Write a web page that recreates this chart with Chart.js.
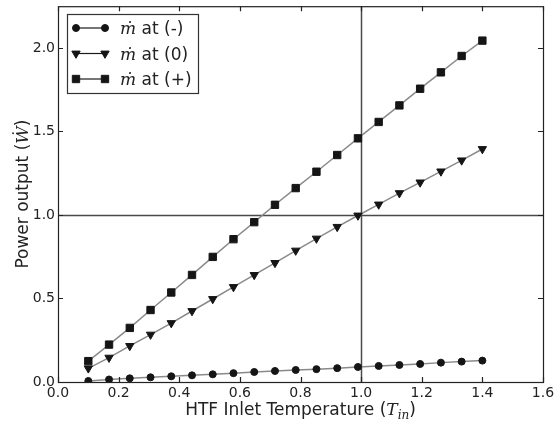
<!DOCTYPE html>
<html>
<head>
<meta charset="utf-8">
<script src="https://cdn.jsdelivr.net/npm/chart.js@4/dist/chart.umd.min.js"></script>
<style>
  html, body { margin: 0; padding: 0; background: #fff; }
  #wrap { width: 555px; height: 423px; }
</style>
</head>
<body>
<div id="wrap"><canvas id="power"></canvas></div>
<script>
const ink = '#222';
const sans = '"DejaVu Sans", sans-serif';
const serif = '"DejaVu Serif", serif';

// inlet temperature samples (normalised)
const tIn = [0.1, 0.1684, 0.2368, 0.3053, 0.3737, 0.4421, 0.5105, 0.5789, 0.6474, 0.7158,
  0.7842, 0.8526, 0.9211, 0.9895, 1.0579, 1.1263, 1.1947, 1.2632, 1.3316, 1.4];

// normalised power output for the three mass-flow settings
const powerLow = [0.006, 0.015, 0.022, 0.028, 0.034, 0.040, 0.046, 0.053, 0.060, 0.066,
  0.072, 0.077, 0.083, 0.090, 0.096, 0.102, 0.108, 0.116, 0.122, 0.128];
const powerMid = [0.082, 0.146, 0.216, 0.284, 0.353, 0.425, 0.497, 0.569, 0.641, 0.713,
  0.787, 0.859, 0.929, 0.997, 1.063, 1.131, 1.195, 1.261, 1.327, 1.395];
const powerHigh = [0.125, 0.224, 0.324, 0.431, 0.536, 0.641, 0.749, 0.855, 0.957, 1.061,
  1.161, 1.259, 1.359, 1.459, 1.557, 1.656, 1.756, 1.854, 1.952, 2.044];

const seriesLabels = ['ṁ at (-)', 'ṁ at (0)', 'ṁ at (+)'];
const markers = ['circle', 'triangle', 'rect'];
const markerSize = [3.5, 4.8, 5.2];

const xTicks = [0, 0.2, 0.4, 0.6, 0.8, 1.0, 1.2, 1.4, 1.6];
const yTicks = [0, 0.5, 1.0, 1.5, 2.0];
const refX = 1.0;
const refY = 1.0;

const toPoints = (ys) => ys.map((y, i) => ({ x: tIn[i], y }));

const makeDataset = (ys, i) => ({
  label: seriesLabels[i],
  data: toPoints(ys),
  borderColor: '#8a8a8a',
  borderWidth: 1.5,
  pointStyle: markers[i],
  pointRotation: markers[i] === 'triangle' ? 180 : 0,
  pointRadius: markerSize[i],
  pointBackgroundColor: '#151515',
  pointBorderColor: '#151515',
  pointBorderWidth: 1,
  tension: 0
});

// label with the leading mdot symbol set in italic serif
const drawMathLabel = (ctx, parts, x, y, align) => {
  let total = 0;
  parts.forEach(p => {
    ctx.font = p.font;
    p.w = ctx.measureText(p.text).width;
    total += p.w;
  });
  let cx = align === 'center' ? x - total / 2 : x;
  ctx.textAlign = 'left';
  ctx.textBaseline = 'alphabetic';
  parts.forEach(p => {
    ctx.font = p.font;
    ctx.fillText(p.text, cx, y + (p.dy || 0));
    cx += p.w;
  });
};

const framePlugin = {
  id: 'frame',
  beforeDatasetsDraw(chart) {
    const { ctx, chartArea: a, scales } = chart;
    ctx.save();
    ctx.strokeStyle = '#4a4a4a';
    ctx.lineWidth = 1.5;
    const px = Math.round(scales.x.getPixelForValue(refX)) + 0.5;
    const py = Math.round(scales.y.getPixelForValue(refY)) + 0.5;
    ctx.beginPath();
    ctx.moveTo(px, a.top); ctx.lineTo(px, a.bottom);
    ctx.moveTo(a.left, py); ctx.lineTo(a.right, py);
    ctx.stroke();
    ctx.restore();
  },
  afterDraw(chart) {
    const { ctx, chartArea: a, scales } = chart;
    ctx.save();
    ctx.strokeStyle = ink;
    ctx.lineWidth = 1.2;
    ctx.strokeRect(a.left + 0.5, a.top + 0.5, a.right - a.left, a.bottom - a.top);

    // inward tick marks on all four sides
    const tl = 5;
    ctx.beginPath();
    xTicks.forEach(v => {
      const p = Math.round(scales.x.getPixelForValue(v)) + 0.5;
      ctx.moveTo(p, a.bottom); ctx.lineTo(p, a.bottom - tl);
      ctx.moveTo(p, a.top); ctx.lineTo(p, a.top + tl);
    });
    yTicks.forEach(v => {
      const p = Math.round(scales.y.getPixelForValue(v)) + 0.5;
      ctx.moveTo(a.left, p); ctx.lineTo(a.left + tl, p);
      ctx.moveTo(a.right, p); ctx.lineTo(a.right - tl, p);
    });
    ctx.stroke();

    // legend box
    const lx = 67, ly = 14, lw = 131, lh = 79;
    ctx.fillStyle = '#fff';
    ctx.fillRect(lx, ly, lw, lh);
    ctx.strokeStyle = '#333';
    ctx.lineWidth = 1.2;
    ctx.strokeRect(lx + 0.5, ly + 0.5, lw, lh);
    chart.data.datasets.forEach((ds, i) => {
      const ry = 28 + i * 25.5;
      ctx.strokeStyle = '#1a1a1a';
      ctx.lineWidth = 1.2;
      ctx.beginPath();
      ctx.moveTo(76, ry); ctx.lineTo(105, ry);
      ctx.stroke();
      ctx.fillStyle = '#151515';
      ctx.strokeStyle = '#151515';
      ctx.lineWidth = 1;
      [76, 105].forEach(mx => {
        Chart.helpers.drawPoint(ctx, {
          pointStyle: ds.pointStyle,
          rotation: ds.pointRotation,
          radius: ds.pointRadius,
          borderWidth: 1
        }, mx, ry);
      });
      ctx.fillStyle = ink;
      drawMathLabel(ctx, [
        { text: ds.label.slice(0, 1), font: 'italic 17px ' + serif },
        { text: ds.label.slice(1), font: '17px ' + sans }
      ], 120, ry + 6, 'left');
    });

    // axis titles
    ctx.fillStyle = ink;
    const cx = (a.left + a.right) / 2;
    drawMathLabel(ctx, [
      { text: 'HTF Inlet Temperature (', font: '17px ' + sans },
      { text: 'T', font: 'italic 17px ' + serif },
      { text: 'in', font: 'italic 12px ' + serif, dy: 4 },
      { text: ')', font: '17px ' + sans }
    ], cx, 415, 'center');

    ctx.translate(28, (a.top + a.bottom) / 2);
    ctx.rotate(-Math.PI / 2);
    drawMathLabel(ctx, [
      { text: 'Power output (', font: '17px ' + sans },
      { text: 'Ẇ', font: 'italic 17px ' + serif },
      { text: ')', font: '17px ' + sans }
    ], 0, 0, 'center');
    ctx.restore();
  }
};

new Chart(document.getElementById('power'), {
  type: 'line',
  data: {
    datasets: [powerLow, powerMid, powerHigh].map(makeDataset)
  },
  options: {
    responsive: true,
    maintainAspectRatio: false,
    animation: false,
    events: [],
    layout: { padding: { top: 6, right: 12, left: 0, bottom: 0 } },
    plugins: {
      legend: { display: false },
      tooltip: { enabled: false }
    },
    scales: {
      x: {
        type: 'linear',
        min: 0,
        max: 1.6,
        grid: { display: false, drawTicks: false },
        border: { display: false },
        ticks: {
          padding: 3,
          color: ink,
          font: { family: sans, size: 14 },
          callback: (v) => v.toFixed(1)
        },
        afterBuildTicks: (scale) => { scale.ticks = xTicks.map(value => ({ value })); },
        afterFit: (scale) => {
          scale.height = 41;
          scale.paddingLeft = 0;
          scale.paddingRight = 0;
        }
      },
      y: {
        type: 'linear',
        min: 0,
        max: 2.25,
        grid: { display: false, drawTicks: false },
        border: { display: false },
        ticks: {
          padding: 3,
          color: ink,
          font: { family: sans, size: 14 },
          callback: (v) => v.toFixed(1)
        },
        afterBuildTicks: (scale) => { scale.ticks = yTicks.map(value => ({ value })); },
        afterFit: (scale) => {
          scale.width = 58;
          scale.paddingTop = 0;
          scale.paddingBottom = 0;
        }
      }
    }
  },
  plugins: [framePlugin]
});
</script>
</body>
</html>
